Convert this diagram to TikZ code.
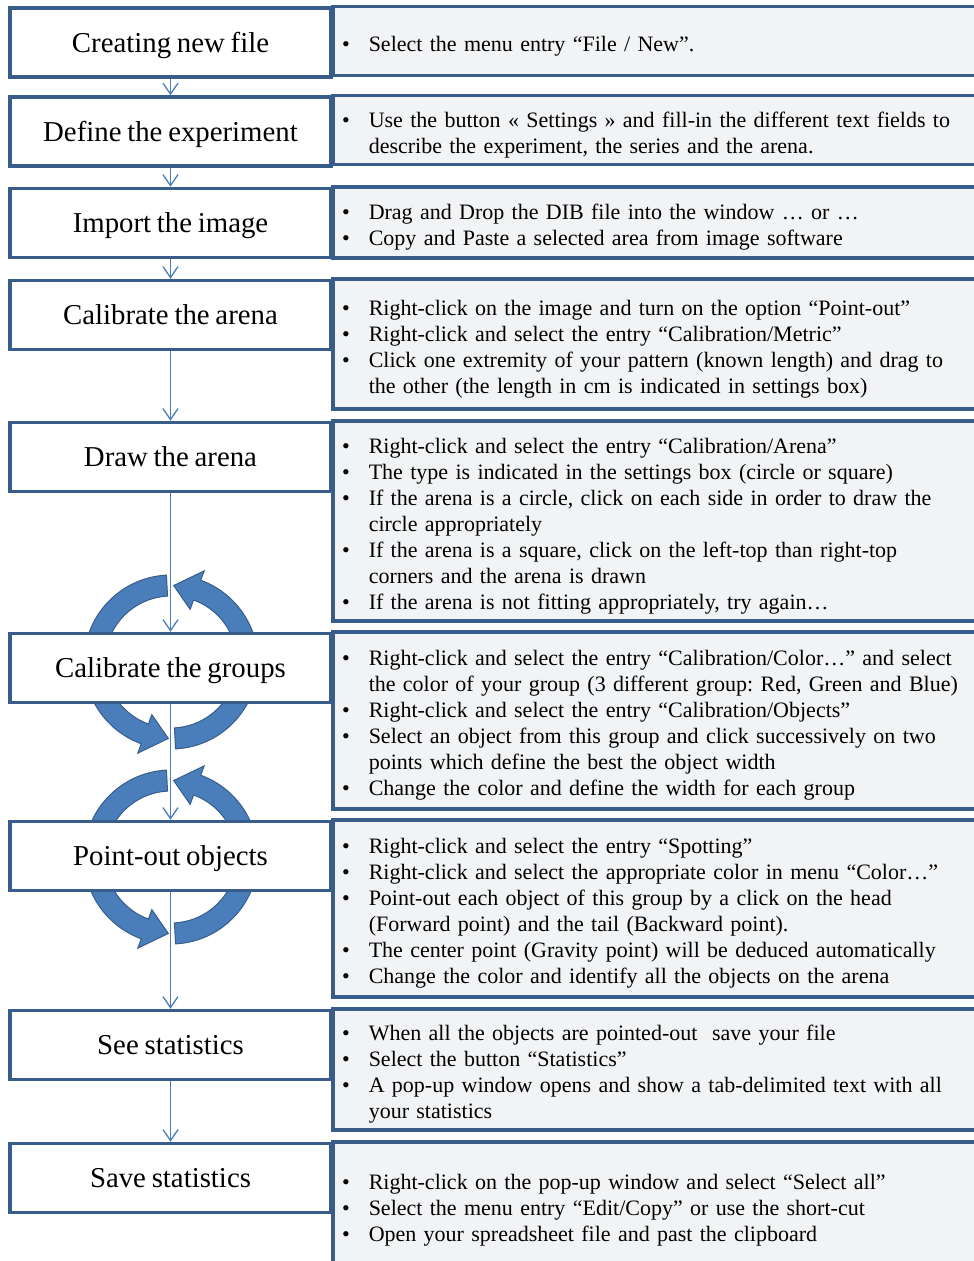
\documentclass[tikz,border=0pt]{standalone}
\usepackage{fontspec}
\setmainfont{Liberation Serif}[WordSpace=0.8]
\frenchspacing
\usetikzlibrary{arrows.meta,calc,backgrounds}

\definecolor{frameblue}{HTML}{385D8A}
\definecolor{linkblue}{HTML}{4A7EBB}
\definecolor{panelgray}{HTML}{F2F3F5}

\newenvironment{bulletlist}{\begin{list}{\textbullet}{\setlength{\leftmargin}{36pt}\setlength{\labelwidth}{12pt}\setlength{\labelsep}{19pt}\setlength{\itemsep}{0pt}\setlength{\parsep}{0pt}\setlength{\topsep}{0pt}\setlength{\partopsep}{0pt}}\raggedright\frenchspacing}{\end{list}\vspace{4pt}}

\newcommand{\cyclearrows}[1]{%
	\filldraw[turn] ($(#1)+(93:87pt)$) arc[start angle=93, end angle=250, radius=87pt] -- ($(#1)+(250:97pt)$) -- ($(#1)+(268:76.5pt)$) -- ($(#1)+(250:56pt)$) -- ($(#1)+(250:66pt)$) arc[start angle=250, end angle=93, radius=66pt] -- cycle;
	\filldraw[turn] ($(#1)+(273:87pt)$) arc[start angle=273, end angle=430, radius=87pt] -- ($(#1)+(430:97pt)$) -- ($(#1)+(448:76.5pt)$) -- ($(#1)+(430:56pt)$) -- ($(#1)+(430:66pt)$) arc[start angle=430, end angle=273, radius=66pt] -- cycle;
}

\begin{document}
\begin{tikzpicture}[
	x=1pt, y=-1pt,
	stepbox/.style={draw=frameblue, fill=white, line width=3.5pt, minimum width=321pt, minimum height=69pt, text height=21pt, text depth=2pt, font=\fontsize{28.8}{32}\selectfont},
	infobox/.style={draw=frameblue, fill=panelgray, line width=3.5pt, anchor=north west, outer sep=0pt, inner xsep=0pt, inner ysep=0pt, text width=649pt, font=\fontsize{22}{26}\selectfont},
	flow/.style={linkblue, line width=1.3pt, -{Straight Barb[length=11pt,width=15pt]}},
	turn/.style={fill=linkblue, draw=frameblue, line width=1pt}
	]

	\useasboundingbox (0,0) rectangle (974,1261);

	\node[stepbox] (new) at (170.5,42.5) {Creating new file};
	\node[stepbox] (define) at (170.5,131.5) {Define the experiment};
	\node[stepbox] (import) at (170.5,223) {Import the image};
	\node[stepbox] (metric) at (170.5,315) {Calibrate the arena};
	\node[stepbox] (arena) at (170.5,457) {Draw the arena};
	\node[stepbox] (groups) at (170.5,668) {Calibrate the groups};
	\node[stepbox] (spot) at (170.5,856) {Point-out objects};
	\node[stepbox] (stats) at (170.5,1045) {See statistics};
	\node[stepbox] (save) at (170.5,1178) {Save statistics};

	\node[infobox, minimum height=69pt] (newinfo) at (new.north east) {\begin{bulletlist}
		\item Select the menu entry “File / New”.
	\end{bulletlist}};
	\node[infobox, minimum height=69pt] (defineinfo) at (define.north east) {\begin{bulletlist}
		\item Use the button « Settings » and fill-in the different text fields to\newline describe the experiment, the series and the arena.
	\end{bulletlist}};
	\node[infobox, minimum height=71pt] (importinfo) at (import.north east) {\begin{bulletlist}
		\item Drag and Drop the DIB file into the window … or …
		\item Copy and Paste a selected area from image software
	\end{bulletlist}};
	\node[infobox, minimum height=130pt] (metricinfo) at (metric.north east) {\begin{bulletlist}
		\item Right-click on the image and turn on the option “Point-out”
		\item Right-click and select the entry “Calibration/Metric”
		\item Click one extremity of your pattern (known length) and drag to\newline the other (the length in cm is indicated in settings box)
	\end{bulletlist}};
	\node[infobox, minimum height=200pt] (arenainfo) at (arena.north east) {\begin{bulletlist}
		\item Right-click and select the entry “Calibration/Arena”
		\item The type is indicated in the settings box (circle or square)
		\item If the arena is a circle, click on each side in order to draw the\newline circle appropriately
		\item If the arena is a square, click on the left-top than right-top\newline corners and the arena is drawn
		\item If the arena is not fitting appropriately, try again…
	\end{bulletlist}};
	\node[infobox, minimum height=177pt] (groupsinfo) at (groups.north east) {\begin{bulletlist}
		\item Right-click and select the entry “Calibration/Color…” and select\newline the color of your group (3 different group: Red, Green and Blue)
		\item Right-click and select the entry “Calibration/Objects”
		\item Select an object from this group and click successively on two\newline points which define the best the object width
		\item Change the color and define the width for each group
	\end{bulletlist}};
	\node[infobox, minimum height=177pt] (spotinfo) at (spot.north east) {\begin{bulletlist}
		\item Right-click and select the entry “Spotting”
		\item Right-click and select the appropriate color in menu “Color…”
		\item Point-out each object of this group by a click on the head\newline (Forward point) and the tail (Backward point).
		\item The center point (Gravity point) will be deduced automatically
		\item Change the color and identify all the objects on the arena
	\end{bulletlist}};
	\node[infobox, minimum height=121pt] (statsinfo) at (stats.north east) {\begin{bulletlist}
		\item When all the objects are pointed-out\ \ save your file
		\item Select the button “Statistics”
		\item A pop-up window opens and show a tab-delimited text with all\newline your statistics
	\end{bulletlist}};
	\node[infobox, minimum height=126pt] (saveinfo) at (save.north east) {\begin{bulletlist}
		\item Right-click on the pop-up window and select “Select all”
		\item Select the menu entry “Edit/Copy” or use the short-cut
		\item Open your spreadsheet file and past the clipboard
	\end{bulletlist}};

	\begin{scope}[on background layer]
		\cyclearrows{171,662}
		\cyclearrows{171,857}
	\end{scope}

	\draw[flow] (new.south) -- (define.north);
	\draw[flow] (define.south) -- (import.north);
	\draw[flow] (import.south) -- (metric.north);
	\draw[flow] (metric.south) -- (arena.north);
	\draw[flow] (arena.south) -- (groups.north);
	\draw[flow] (groups.south) -- (spot.north);
	\draw[flow] (spot.south) -- (stats.north);
	\draw[flow] (stats.south) -- (save.north);

\end{tikzpicture}
\end{document}
